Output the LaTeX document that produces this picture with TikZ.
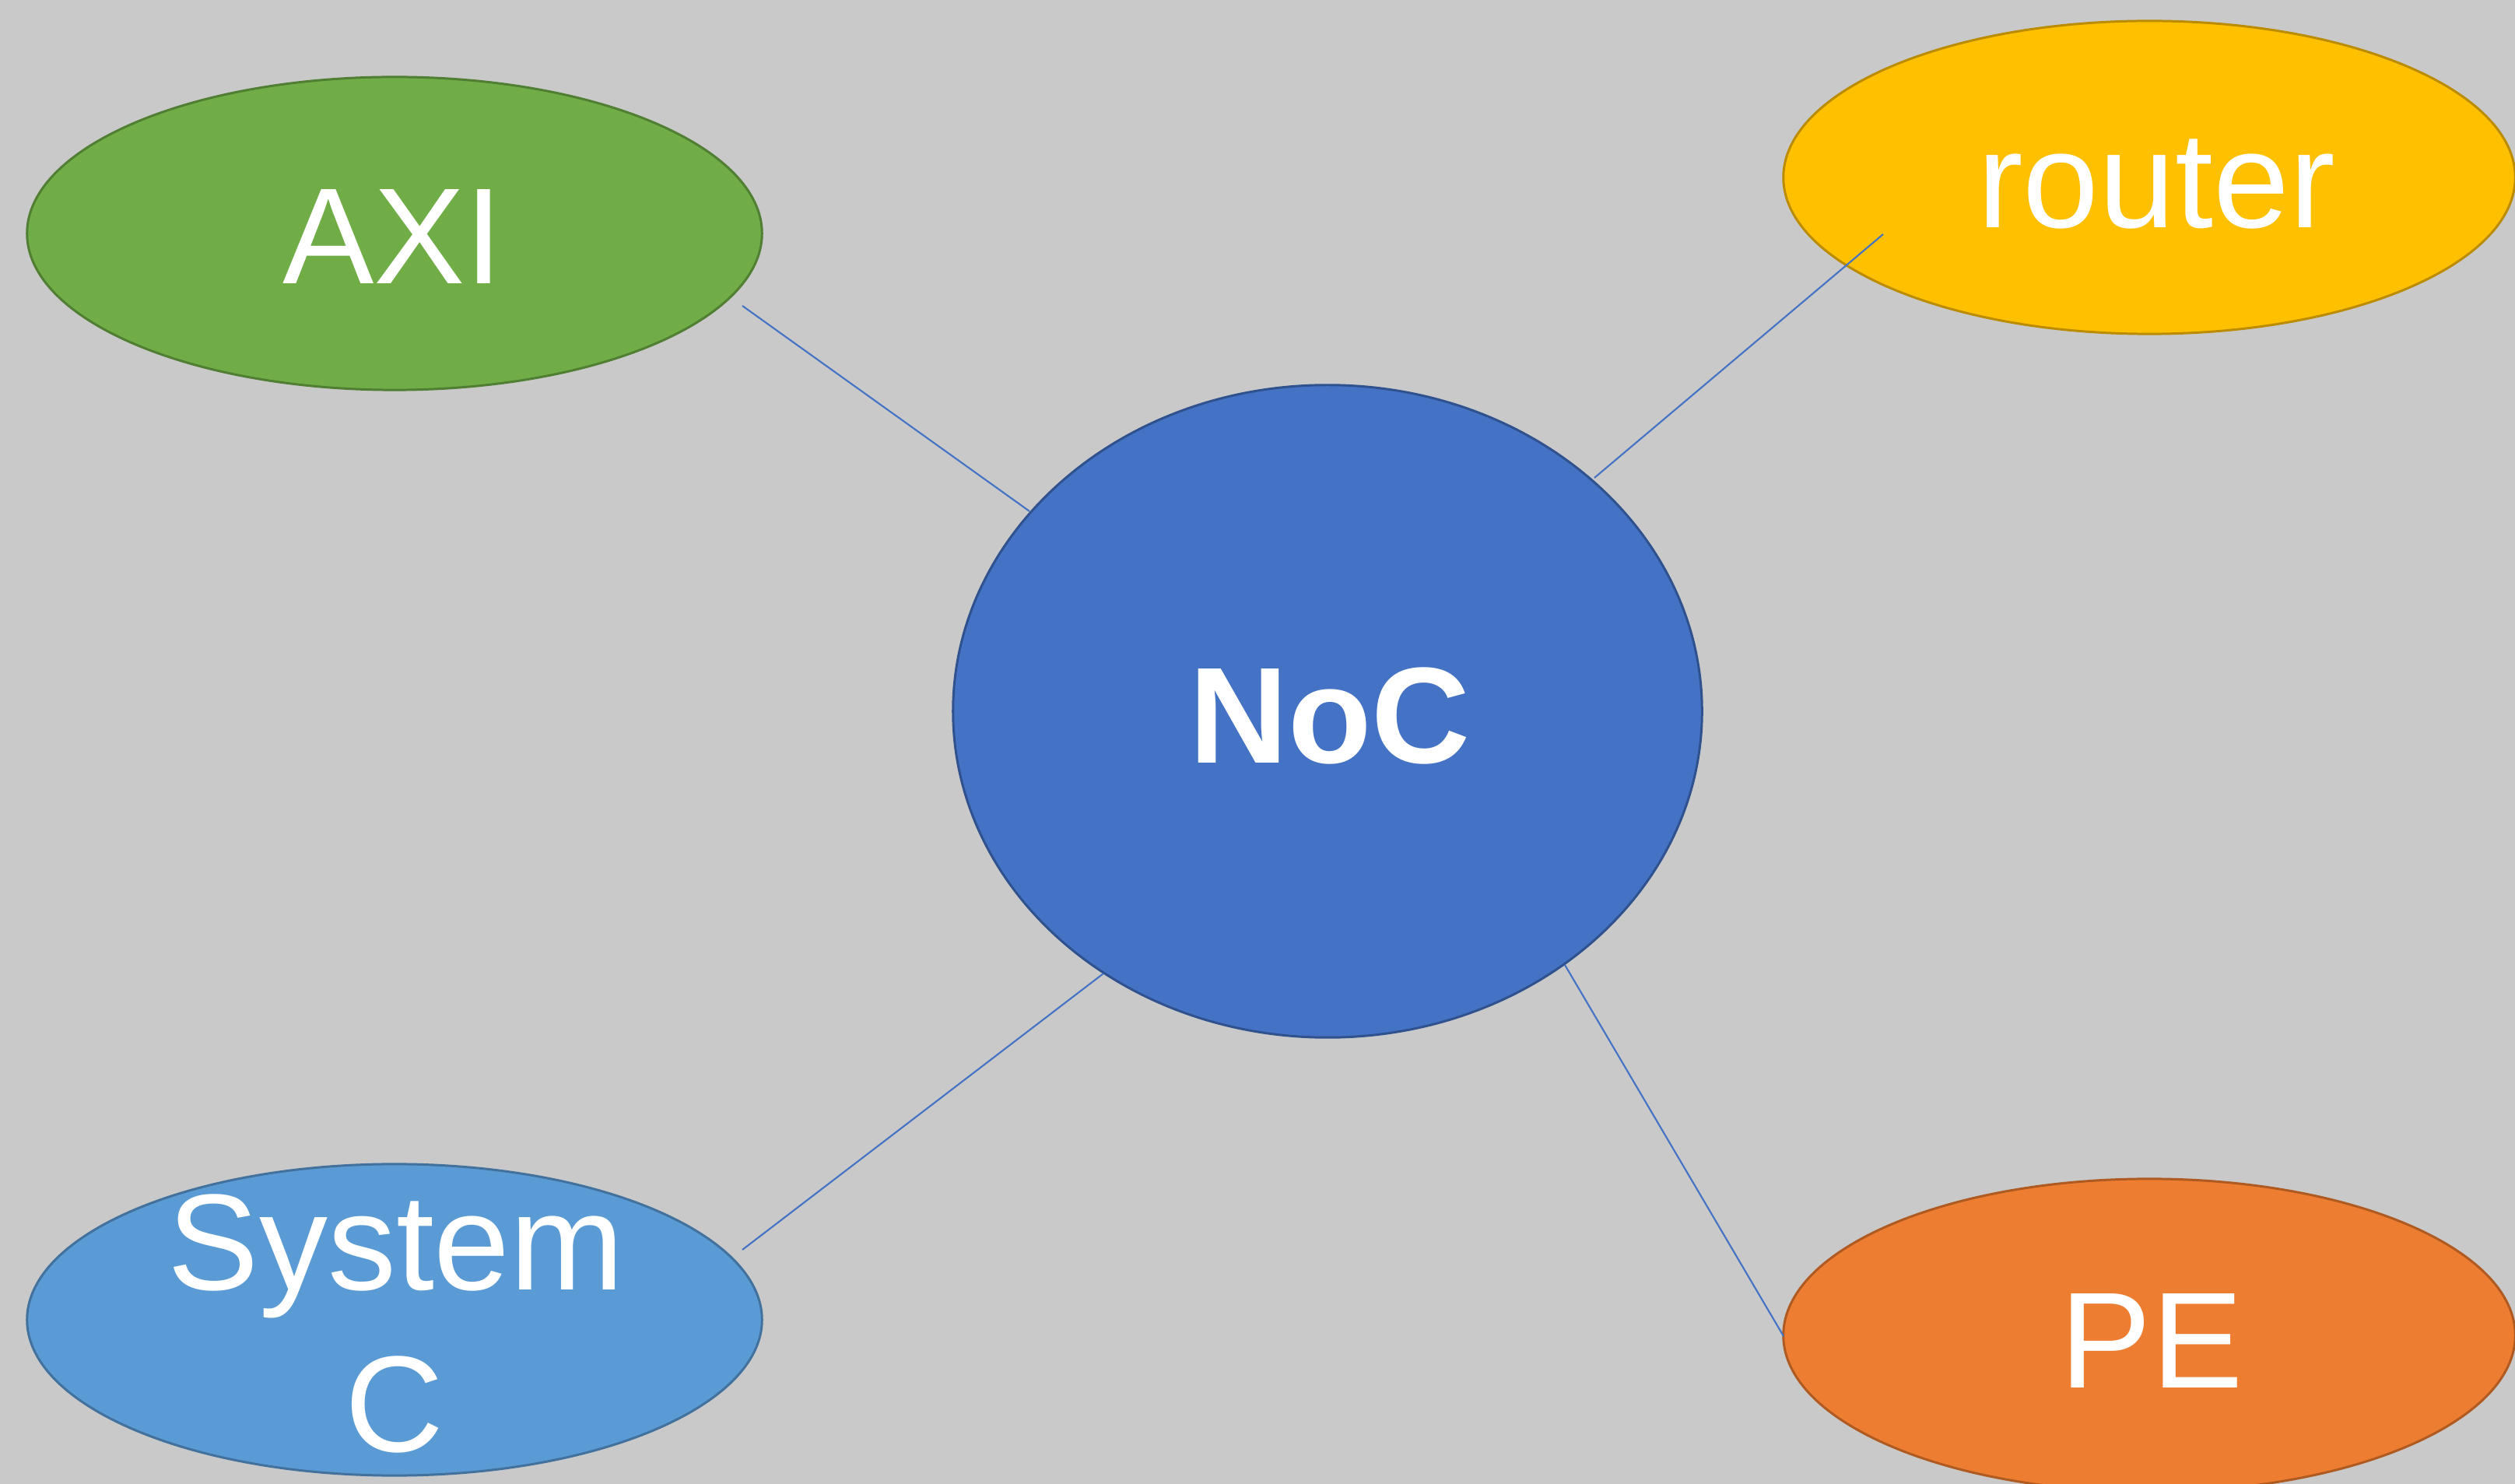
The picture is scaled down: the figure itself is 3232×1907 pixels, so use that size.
\documentclass[tikz,border=0pt]{standalone}
\usepackage{fontspec}
\setmainfont{Liberation Sans}
\usetikzlibrary{shapes.geometric}
\definecolor{bg}{HTML}{C9C9C9}
\definecolor{axiF}{HTML}{70AD47}\definecolor{axiD}{HTML}{507E32}
\definecolor{rtF}{HTML}{FFC000}\definecolor{rtD}{HTML}{BC8C00}
\definecolor{nocF}{HTML}{4472C4}\definecolor{nocD}{HTML}{2F528F}
\definecolor{scF}{HTML}{5B9BD5}\definecolor{scD}{HTML}{41719C}
\definecolor{peF}{HTML}{ED7D31}\definecolor{peD}{HTML}{AE5A21}
\tikzset{
  blob/.style={ellipse, inner sep=0pt, outer sep=0pt, line width=0.85pt},
  lbl/.style={anchor=base, inner sep=0pt, text=white, font=\fontsize{50}{59}\selectfont},
  link/.style={draw=nocF, line width=0.6pt}
}
\begin{document}
\begin{tikzpicture}[x=0.01cm, y=-0.01cm]
\fill[bg] (0,0) rectangle (3232,1907);
\useasboundingbox (0,0) rectangle (3232,1907);
\clip (0,0) rectangle (3232,1907);
\node[blob, fill=axiF, draw=axiD, minimum width=9.44cm, minimum height=4.02cm] (axi) at (507,300) {};
\node[blob, fill=rtF, draw=rtD, minimum width=9.40cm, minimum height=4.02cm] (router) at (2762,228) {};
\node[blob, fill=nocF, draw=nocD, minimum width=9.62cm, minimum height=8.38cm] (noc) at (1706,914) {};
\node[blob, fill=scF, draw=scD, minimum width=9.44cm, minimum height=4.00cm] (sysc) at (507,1696) {};
\node[blob, fill=peF, draw=peD, minimum width=9.40cm, minimum height=4.02cm] (pe) at (2762,1716) {};
\node[lbl] (axiT) at (505,365) {AXI};
\node[lbl] (routerT) at (2771,293) {router};
\node[lbl, font=\fontsize{50}{59}\selectfont\bfseries] (nocT) at (1709,981) {NoC};
\node[lbl] (syscT1) at (509,1657) {System};
\node[lbl] (syscT2) at (507,1865) {C};
\node[lbl] (peT) at (2765,1783) {PE};
\coordinate (a1) at (954,393);  \coordinate (a2) at (1323,657);
\coordinate (r1) at (2049,614); \coordinate (r2) at (2420,301);
\coordinate (s1) at (954,1606); \coordinate (s2) at (1418,1251);
\coordinate (p1) at (2011,1240); \coordinate (p2) at (2292,1717);
\draw[link] (a1) -- (a2);
\draw[link] (r1) -- (r2);
\draw[link] (s1) -- (s2);
\draw[link] (p1) -- (p2);
\end{tikzpicture}
\end{document}
